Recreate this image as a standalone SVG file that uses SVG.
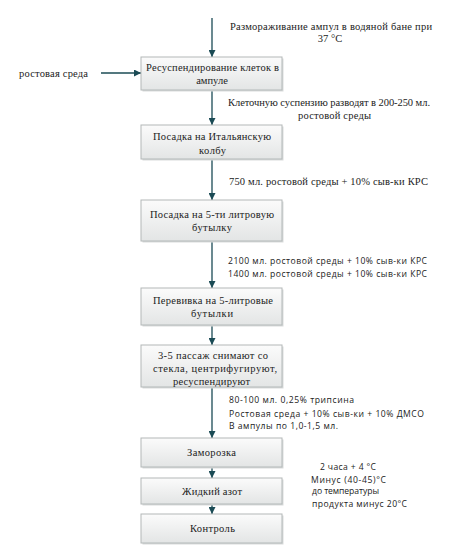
<svg xmlns="http://www.w3.org/2000/svg" width="464" height="554" viewBox="0 0 464 554">
<defs>
<linearGradient id="g" x1="0" y1="0" x2="0" y2="1">
<stop offset="0" stop-color="#fbfbfb"/>
<stop offset="1" stop-color="#e3e5e5"/>
</linearGradient>
<marker id="ah" markerWidth="7" markerHeight="7" refX="7" refY="3.5" orient="auto" markerUnits="userSpaceOnUse">
<path d="M0,0 L7,3.5 L0,7 z" fill="#1b4b55"/>
</marker>
<style>
.box{fill:url(#g);stroke:#b3b8b8;stroke-width:1}
.sh{fill:#d9dcdc}
.t{font-family:"Liberation Serif","Times New Roman",serif;font-size:10.5px;fill:#222;text-anchor:middle}
.s{font-family:"Open Sans","Liberation Sans",sans-serif;font-size:8.6px;fill:#222}
.c{stroke:#1b4b55;stroke-width:1.3;fill:none;marker-end:url(#ah)}
</style>
</defs>
<rect width="464" height="554" fill="#fff"/>
<g id="connectors">
<line class="c" x1="212" y1="18" x2="212" y2="57"/>
<line class="c" x1="101" y1="73" x2="141" y2="73"/>
<line class="c" x1="212" y1="90" x2="212" y2="125"/>
<line class="c" x1="212" y1="159" x2="212" y2="200"/>
<line class="c" x1="212" y1="241" x2="212" y2="288"/>
<line class="c" x1="212" y1="325" x2="212" y2="345"/>
<line class="c" x1="212" y1="387" x2="212" y2="438"/>
<line class="c" x1="212" y1="467" x2="212" y2="478"/>
<line class="c" x1="212" y1="504" x2="212" y2="514"/>
</g>
<g id="n1"><rect class="sh" x="142.5" y="58.5" width="141" height="33"/><rect class="box" x="141" y="57" width="141" height="33"/><text class="t" x="212.5" y="70.5" textLength="133" lengthAdjust="spacing">Ресуспендирование клеток в</text><text class="t" x="212" y="83.5">ампуле</text></g>
<g id="n2"><rect class="sh" x="142.5" y="126.5" width="141" height="34"/><rect class="box" x="141" y="125" width="141" height="34"/><text class="t" x="212" y="140" textLength="118" lengthAdjust="spacing">Посадка на Итальянскую</text><text class="t" x="212.5" y="154" textLength="27" lengthAdjust="spacing">колбу</text></g>
<g id="n3"><rect class="sh" x="142.5" y="201.5" width="141" height="41"/><rect class="box" x="141" y="200" width="141" height="41"/><text class="t" x="212" y="218" textLength="124" lengthAdjust="spacing">Посадка на 5-ти литровую</text><text class="t" x="212" y="231" textLength="40" lengthAdjust="spacing">бутылку</text></g>
<g id="n4"><rect class="sh" x="142.5" y="289.5" width="141" height="37"/><rect class="box" x="141" y="288" width="141" height="37"/><text class="t" x="213" y="304" textLength="120" lengthAdjust="spacing">Перевивка на 5-литровые</text><text class="t" x="212" y="316.5" textLength="42" lengthAdjust="spacing">бутылки</text></g>
<g id="n5"><rect class="sh" x="142.5" y="346.5" width="141" height="42"/><rect class="box" x="141" y="345" width="141" height="42"/><text class="t" x="213" y="359" textLength="110" lengthAdjust="spacing">3-5 пассаж снимают со</text><text class="t" x="215" y="371.5" textLength="124" lengthAdjust="spacing">стекла, центрифугируют,</text><text class="t" x="211.5" y="384.5" textLength="77" lengthAdjust="spacing">ресуспендируют</text></g>
<g id="n6"><rect class="sh" x="142.5" y="439.5" width="141" height="29"/><rect class="box" x="141" y="438" width="141" height="29"/><text class="t" x="211.5" y="456" textLength="49" lengthAdjust="spacing">Заморозка</text></g>
<g id="n7"><rect class="sh" x="142.5" y="479.5" width="141" height="26"/><rect class="box" x="141" y="478" width="141" height="26"/><text class="t" x="212" y="495" textLength="60" lengthAdjust="spacing">Жидкий азот</text></g>
<g id="n8"><rect class="sh" x="142.5" y="515.5" width="141" height="29"/><rect class="box" x="141" y="514" width="141" height="29"/><text class="t" x="212.5" y="532" textLength="45" lengthAdjust="spacing">Контроль</text></g>
<g id="labels">
<text class="t" x="331" y="29.5" textLength="202" lengthAdjust="spacing">Размораживание ампул в водяной бане при</text>
<text class="t" x="330" y="42">37 °C</text>
<text class="t" x="53.5" y="76.5" textLength="69" lengthAdjust="spacing">ростовая среда</text>
<text class="t" x="329" y="105.5" textLength="202" lengthAdjust="spacing">Клеточную суспензию разводят в 200-250 мл.</text>
<text class="t" x="334.5" y="119" textLength="73" lengthAdjust="spacing">ростовой среды</text>
<text class="t" x="328.5" y="184.5" textLength="199" lengthAdjust="spacing">750 мл. ростовой среды + 10% сыв-ки КРС</text>
<text class="s" x="228" y="264" textLength="199" lengthAdjust="spacing">2100 мл. ростовой среды + 10% сыв-ки КРС</text>
<text class="s" x="228" y="276.5" textLength="199" lengthAdjust="spacing">1400 мл. ростовой среды + 10% сыв-ки КРС</text>
<text class="s" x="229" y="403" textLength="125" lengthAdjust="spacing">80-100 мл. 0,25% трипсина</text>
<text class="s" x="229" y="417" textLength="195" lengthAdjust="spacing">Ростовая среда + 10% сыв-ки + 10% ДМСО</text>
<text class="s" x="229" y="429" textLength="109" lengthAdjust="spacing">В ампулы по 1,0-1,5 мл.</text>
<text class="s" x="320" y="470" textLength="56" lengthAdjust="spacing">2 часа + 4 °C</text>
<text class="s" x="311" y="483" textLength="75" lengthAdjust="spacing">Минус (40-45)°C</text>
<text class="s" x="312" y="494" textLength="67" lengthAdjust="spacing">до температуры</text>
<text class="s" x="312" y="507" textLength="95" lengthAdjust="spacing">продукта минус 20°C</text>
</g>
</svg>
